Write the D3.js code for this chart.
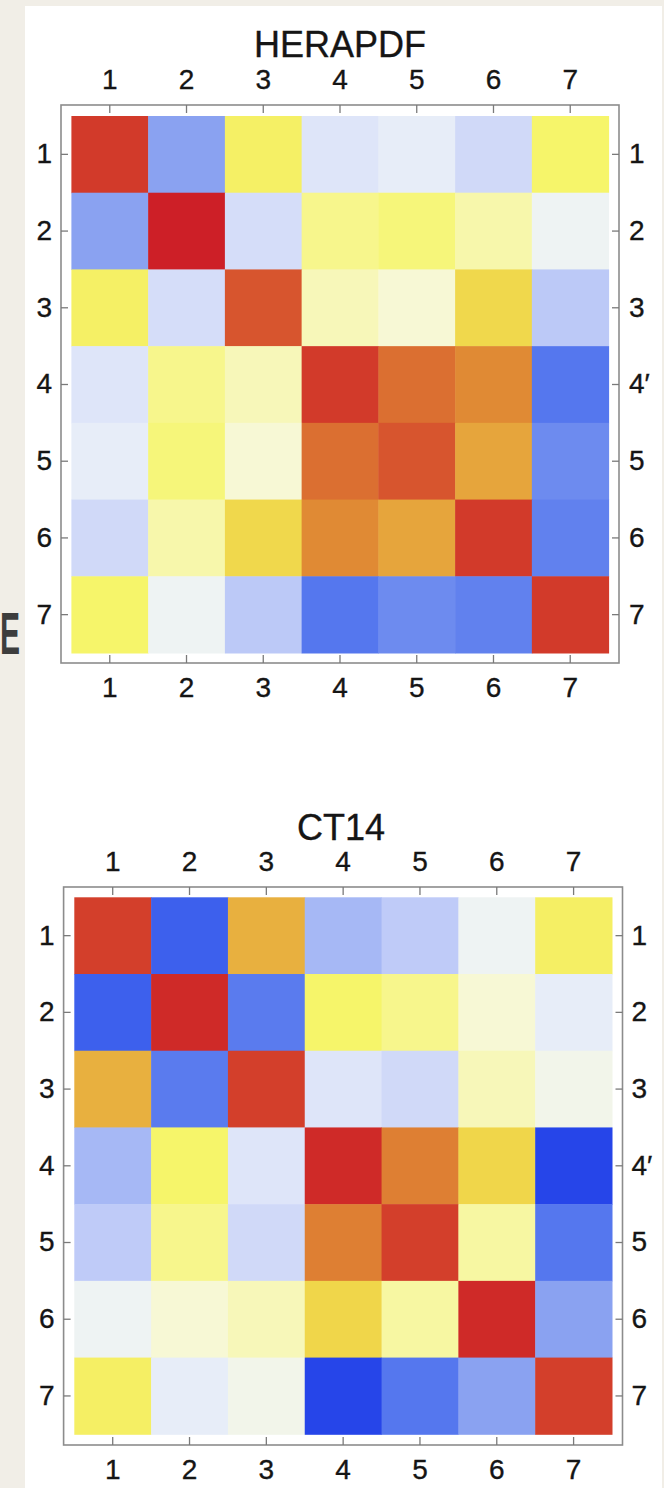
<!DOCTYPE html>
<html>
<head>
<meta charset="utf-8">
<script src="https://cdn.jsdelivr.net/npm/d3@7"></script>
<style>
  html, body { margin: 0; padding: 0; background: #f1eee7; }
  svg { display: block; }
  text { font-family: "Liberation Sans", Arial, Helvetica, sans-serif; }
</style>
</head>
<body>
<svg id="chart" width="664" height="1488"></svg>
<script>
// ---- data ----
const indices = [1, 2, 3, 4, 5, 6, 7];
const tickLabels = ["1", "2", "3", "4", "5", "6", "7"];
const rightTickLabels = ["1", "2", "3", "4\u2032", "5", "6", "7"];

const titleHERA = "HERAPDF";
const valuesHERA = [
  [ 0.95, -0.40,  0.43, -0.08, -0.04, -0.14,  0.40],
  [-0.40,  1.00, -0.12,  0.29,  0.35,  0.19,  0.00],
  [ 0.43, -0.12,  0.90,  0.15,  0.07,  0.59, -0.22],
  [-0.08,  0.29,  0.15,  0.95,  0.85,  0.80, -0.63],
  [-0.04,  0.35,  0.07,  0.85,  0.90,  0.73, -0.52],
  [-0.14,  0.19,  0.59,  0.80,  0.73,  0.95, -0.57],
  [ 0.40,  0.00, -0.22, -0.63, -0.52, -0.57,  0.95]
];

const titleCT = "CT14";
const valuesCT = [
  [ 0.94, -0.78,  0.70, -0.30, -0.21,  0.00,  0.44],
  [-0.78,  0.98, -0.60,  0.40,  0.29,  0.07, -0.04],
  [ 0.70, -0.60,  0.94, -0.08, -0.14,  0.15,  0.02],
  [-0.30,  0.40, -0.08,  0.98,  0.82,  0.60, -0.95],
  [-0.21,  0.29, -0.14,  0.82,  0.94,  0.22, -0.63],
  [ 0.00,  0.07,  0.15,  0.60,  0.22,  0.98, -0.40],
  [ 0.44, -0.04,  0.02, -0.95, -0.63, -0.40,  0.94]
];

// colour map (temperature-like)
const colorStops = [-1.0, -0.8, -0.6, -0.4, -0.2, -0.05, 0.0, 0.05, 0.2, 0.4, 0.6, 0.8, 1.0];
const colorRange = ["#1f3de8", "#3a5ded", "#5a7bee", "#8aa2f1", "#c2cdf8", "#e5ebf9", "#eef3f3",
                    "#f7f8dc", "#f7f7a8", "#f6f56a", "#f0d64a", "#e08a34", "#cd1f27"];

// ---- drawing ----
const svg = d3.select("#chart");
const color = d3.scaleLinear().domain(colorStops).range(colorRange).interpolate(d3.interpolateRgb).clamp(true);

// page background + white panel
svg.append("rect").attr("x", 0).attr("y", 0).attr("width", 664).attr("height", 1488).attr("fill", "#f1eee7");
svg.append("rect").attr("x", 25).attr("y", 6).attr("width", 637).attr("height", 1482).attr("fill", "#ffffff");

// stray glyph on the page background
svg.append("g").attr("transform", "translate(0,654) scale(0.5,1)")
  .append("text").attr("x", 0).attr("y", 0)
  .attr("font-size", 60).attr("font-weight", "bold")
  .attr("fill", "#3d3d3d").text("E");

function drawMatrix(cfg) {
  const g = svg.append("g");
  const x = d3.scaleBand().domain(indices).range([cfg.cx0, cfg.cx1]).padding(0);
  const y = d3.scaleBand().domain(indices).range([cfg.cy0, cfg.cy1]).padding(0);

  const cells = [];
  cfg.values.forEach((row, i) => row.forEach((v, j) => cells.push({ r: indices[i], c: indices[j], v })));

  g.selectAll("rect.cell").data(cells).join("rect")
    .attr("class", "cell")
    .attr("x", d => x(d.c))
    .attr("y", d => y(d.r))
    .attr("width", x.bandwidth() + 0.5)
    .attr("height", y.bandwidth() + 0.5)
    .attr("fill", d => color(d.v));

  // frame
  g.append("rect")
    .attr("x", cfg.fx0).attr("y", cfg.fy0)
    .attr("width", cfg.fx1 - cfg.fx0).attr("height", cfg.fy1 - cfg.fy0)
    .attr("fill", "none").attr("stroke", "#8c8c8c").attr("stroke-width", 1.6);

  const fmt = (d) => tickLabels[indices.indexOf(d)];
  const fmtR = (d) => rightTickLabels[indices.indexOf(d)];

  const styleAxis = (sel) => {
    sel.select(".domain").remove();
    sel.selectAll(".tick line").attr("stroke", "#7a7a7a").attr("stroke-width", 1.3);
    sel.selectAll(".tick text").attr("fill", "#151515").attr("font-size", 28)
      .attr("stroke", "#151515").attr("stroke-width", 0.35)
      .attr("font-family", "'Liberation Sans', Arial, Helvetica, sans-serif");
  };

  g.append("g").attr("transform", `translate(0,${cfg.fy0})`)
    .call(d3.axisTop(x).tickSize(-8).tickPadding(cfg.padTop).tickFormat(fmt)).call(styleAxis);
  g.append("g").attr("transform", `translate(0,${cfg.fy1})`)
    .call(d3.axisBottom(x).tickSize(-8).tickPadding(cfg.padBottom).tickFormat(fmt)).call(styleAxis);
  g.append("g").attr("transform", `translate(${cfg.fx0},0)`)
    .call(d3.axisLeft(y).tickSize(-7).tickPadding(cfg.padLeft).tickFormat(fmt)).call(styleAxis);
  g.append("g").attr("transform", `translate(${cfg.fx1},0)`)
    .call(d3.axisRight(y).tickSize(-7).tickPadding(cfg.padRight).tickFormat(fmtR)).call(styleAxis);

  g.append("text")
    .attr("x", cfg.titleX).attr("y", cfg.titleY)
    .attr("text-anchor", "middle").attr("font-size", 36).attr("fill", "#151515")
    .attr("stroke", "#151515").attr("stroke-width", 0.35)
    .text(cfg.title);
}

drawMatrix({
  title: titleHERA, values: valuesHERA,
  cx0: 71.4, cx1: 608.6, cy0: 116, cy1: 653,
  fx0: 61, fx1: 619, fy0: 105, fy1: 663,
  padTop: 16, padBottom: 14, padLeft: 9, padRight: 10,
  titleX: 340, titleY: 57
});

drawMatrix({
  title: titleCT, values: valuesCT,
  cx0: 74.3, cx1: 612, cy0: 897.3, cy1: 1434.3,
  fx0: 63.6, fx1: 622.5, fy0: 887, fy1: 1445,
  padTop: 16, padBottom: 14, padLeft: 9, padRight: 9,
  titleX: 341, titleY: 840
});
</script>
</body>
</html>
